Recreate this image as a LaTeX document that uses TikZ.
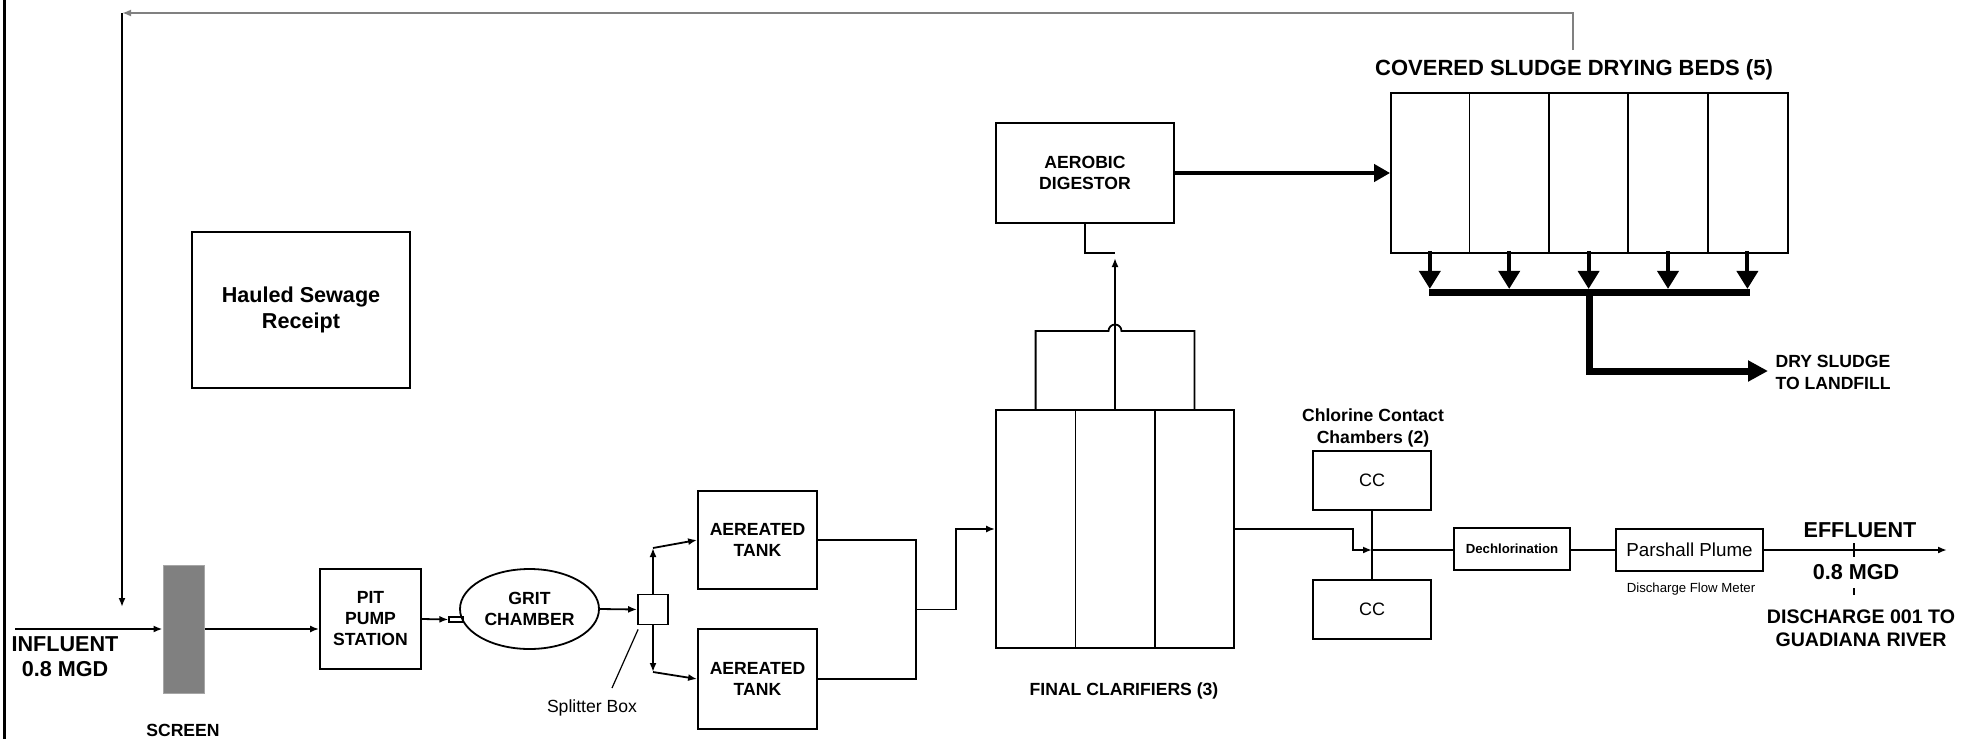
\documentclass[tikz,border=0pt]{standalone}
\usepackage{fontspec}
\setmainfont{Liberation Sans}
\usepackage{tikz}
\usetikzlibrary{arrows.meta,shapes.geometric}

\newcommand{\boxfont}{\fontsize{8.8pt}{10.5pt}\selectfont\bfseries}
\newcommand{\bigfont}{\fontsize{10.8pt}{12.5pt}\selectfont\bfseries}
\newcommand{\plainfont}{\fontsize{8.8pt}{10.5pt}\selectfont}
\newcommand{\tinyfont}{\fontsize{6.6pt}{8pt}\selectfont}

\begin{document}
\begin{tikzpicture}[x=0.5pt,y=-0.5pt,line width=0.9pt,
  procbox/.style={draw,align=center,inner sep=0pt,font=\boxfont},
  flow/.style={-{Latex[length=4.5pt,width=3.5pt]}},
  drop/.style={line width=2pt,-{Triangle[length=9pt,width=10.5pt]}},
  sludge/.style={line width=3.5pt,-{Triangle[length=10pt,width=10pt]}}]
  \useasboundingbox (0,0) rectangle (1976,739);
  \draw[line width=1.5pt] (4,0) -- (4,739);

  \node[procbox,minimum width=109pt,minimum height=78pt,font=\fontsize{10.8pt}{13pt}\selectfont\bfseries] (hauled) at (301,310) {Hauled Sewage\\Receipt};
  \node[fill=black!50,draw=black!35,line width=0.5pt,minimum width=20.5pt,minimum height=64pt,inner sep=0pt] (screen) at (183.5,629) {};
  \node[procbox,minimum width=50.5pt,minimum height=50pt] (pit) at (370.5,619) {PIT\\PUMP\\STATION};
  \node[procbox,ellipse,minimum width=69.5pt,minimum height=40pt] (grit) at (529.5,609) {GRIT\\CHAMBER};
  \node[draw,minimum width=7pt,minimum height=2.5pt,inner sep=0pt,line width=0.6pt] (nozzle) at (456,619.5) {};
  \node[draw,minimum size=15pt,inner sep=0pt] (split) at (653,609.5) {};
  \node[procbox,minimum width=59.5pt,minimum height=49pt] (tankA) at (757.5,540) {AEREATED\\TANK};
  \node[procbox,minimum width=59.5pt,minimum height=50pt] (tankB) at (757.5,679) {AEREATED\\TANK};
  \node[draw,minimum size=119pt,inner sep=0pt] (clar) at (1115,529) {};
  \node[procbox,minimum width=89pt,minimum height=50pt] (digest) at (1085,173) {AEROBIC\\DIGESTOR};
  \node[draw,minimum width=198.5pt,minimum height=80pt,inner sep=0pt] (beds) at (1589.5,173) {};
  \node[procbox,minimum width=59pt,minimum height=29.5pt,font=\fontsize{9pt}{10pt}\selectfont] (ccA) at (1372,480.5) {CC};
  \node[procbox,minimum width=59pt,minimum height=29.5pt,font=\fontsize{9pt}{10pt}\selectfont] (ccB) at (1372,609.5) {CC};
  \node[procbox,minimum width=58pt,minimum height=21pt,font=\tinyfont\bfseries] (dechl) at (1512,549) {Dechlorination};
  \node[procbox,minimum width=73.5pt,minimum height=21pt,font=\fontsize{9.4pt}{11pt}\selectfont] (parsh) at (1689.5,550) {Parshall Plume};

  \node[font=\bigfont,align=center] (influent) at (65,657) {INFLUENT\\0.8 MGD};
  \node[font=\boxfont] (screenlbl) at (183,730) {SCREEN};
  \node[font=\plainfont] (splitlbl) at (592,708) {Splitter Box};
  \node[font=\boxfont] (clarlbl) at (1124,691) {FINAL CLARIFIERS (3)};
  \node[font=\fontsize{11pt}{13pt}\selectfont\bfseries] (bedslbl) at (1574,70) {COVERED SLUDGE DRYING BEDS (5)};
  \node[font=\fontsize{8.8pt}{11pt}\selectfont\bfseries,align=left,anchor=west] (landfill) at (1768,372) {DRY SLUDGE\\TO LANDFILL};
  \node[font=\fontsize{8.8pt}{11pt}\selectfont\bfseries,align=center] (cclbl) at (1373,428) {Chlorine Contact\\Chambers (2)};
  \node[font=\tinyfont] (meterlbl) at (1691,589) {Discharge Flow Meter};
  \node[font=\bigfont] (efflbl) at (1860,530) {EFFLUENT};
  \node[font=\bigfont] (mgdlbl) at (1856,572) {0.8 MGD};
  \node[font=\fontsize{9.8pt}{11.5pt}\selectfont\bfseries,align=center] (riverlbl) at (1861,628) {DISCHARGE 001 TO\\GUADIANA RIVER};

  \coordinate (inflow) at (15,629);
  \coordinate (retstart) at (1573,50);
  \coordinate (retcorner) at (122,13);
  \coordinate (upA) at (653,548);
  \coordinate (downB) at (653,672);
  \coordinate (leader) at (612,688);
  \coordinate (ccjoin) at (1372,550);
  \coordinate (outfall) at (1947,550);

  \draw[flow] (inflow) -- (screen.west |- inflow);
  \draw[flow,draw=black!50] (retstart) -- (1573,13) -- (retcorner);
  \draw[flow] (retcorner) -- (122,607);
  \draw[flow] (screen.east |- inflow) -- (pit.west |- inflow);
  \draw[flow] (pit.east) -- (nozzle.west);
  \draw[flow] (grit.east) -- (split.west);
  \draw[flow] (split.north) -- (upA);
  \draw[flow] (upA) -- (tankA.west);
  \draw[flow] (split.south) -- (downB);
  \draw[flow] (downB) -- (tankB.west);
  \draw[line width=0.6pt] (leader) -- ([xshift=0.5pt,yshift=-2pt]split.south west);
  \draw (tankA.east) -- (916,540) -- (916,679) -- (tankB.east);
  \draw[flow] (916,609.5) -- (956,609.5) -- (956,529) -- (clar.west);

  \draw ([xshift=-19.8pt]clar.north) -- ([xshift=-19.8pt]clar.south);
  \draw ([xshift=19.8pt]clar.north) -- ([xshift=19.8pt]clar.south);
  \draw ([xshift=-39.7pt]clar.north) -- (1035.6,331) -- (1108.5,331)
    arc[start angle=180,end angle=0,radius=3.25pt] -- (1194.4,331) -- ([xshift=39.7pt]clar.north);
  \draw[flow,line width=1.4pt] (clar.north) -- (1115,258);
  \draw (digest.south) -- (1085,253) -- (1115,253);
  \draw[line width=2pt,-{Triangle[length=8pt,width=8.5pt]}] (digest.east) -- (beds.west);

  \foreach \i in {1,...,4}
    \draw ([xshift=\i*39.7pt]beds.north west) -- ([xshift=\i*39.7pt]beds.south west);
  \foreach \i in {0,...,4}
    \draw[drop] ([xshift={(\i+0.5)*39.7pt},yshift=1.5pt]beds.south west) -- ++(0,38);
  \draw[line width=3.5pt] (1429,292) -- (1750,292);
  \draw[sludge] (1589.5,292) -- (1589.5,371) -- (landfill.west |- 0,371);

  \draw (ccA.south) -- (ccB.north);
  \draw[flow] (clar.east) -- (1353,529) -- (1353,550) -- (ccjoin);
  \draw (ccjoin) -- (dechl.west |- ccjoin);
  \draw (dechl.east |- ccjoin) -- (parsh.west |- ccjoin);
  \draw[flow] (parsh.east |- ccjoin) -- (outfall);
  \draw[line width=0.6pt] (1854,543) -- (1854,557);
  \draw[line width=0.6pt] (1854,588) -- (1854,595);
\end{tikzpicture}
\end{document}
